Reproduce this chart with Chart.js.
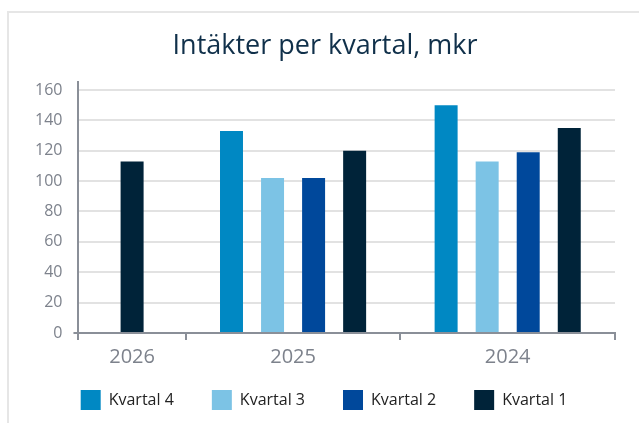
<!DOCTYPE html>
<html>
<head>
<meta charset="utf-8">
<script src="https://cdn.jsdelivr.net/npm/chart.js@4"></script>
<style>
  html, body { margin: 0; padding: 0; background: #fff; overflow: hidden; }
  .chart-frame {
    position: absolute; left: 7px; top: 11px; width: 700px; height: 500px;
    border-left: 2px solid #e6e6e6; border-top: 2px solid #e6e6e6;
  }
  #chart { position: absolute; left: 0; top: 0; }
</style>
</head>
<body>
<div class="chart-frame"></div>
<canvas id="chart" width="639" height="423"></canvas>
<script>
// years and their slot widths (2026 only has one quarter so far, half slot)
const years = ['2026', '2025', '2024'];
const yearSpans = [0.5, 1, 1];

const kvartal4 = [null, 133, 150];
const kvartal3 = [null, 102, 113];
const kvartal2 = [null, 102, 119];
const kvartal1 = [113, 120, 135];

const seriesNames = ['Kvartal 4', 'Kvartal 3', 'Kvartal 2', 'Kvartal 1'];
const seriesColors = ['#0088c3', '#7cc3e5', '#00489b', '#002339'];
const yTicks = [0, 20, 40, 60, 80, 100, 120, 140, 160];

const axisColor = '#8a8f98';
const labelColor = '#7d828c';
const fontFamily = "'Open Sans', 'Noto Sans', sans-serif";

// slot boundaries and centres along the x axis
const bounds = [0];
yearSpans.forEach(s => bounds.push(bounds[bounds.length - 1] + s));
const centers = yearSpans.map((s, i) => bounds[i] + s / 2);
const xTickValues = bounds.concat(centers).sort((a, b) => a - b);

function toPoints(values) {
  return values.map((v, i) => ({ x: centers[i], y: v }));
}

const allSeries = [kvartal4, kvartal3, kvartal2, kvartal1];

// nudge title right and pull the legend row up closer to the axis labels
const layoutTweaks = {
  id: 'layoutTweaks',
  afterLayout(chart) {
    if (chart.titleBlock) {
      chart.titleBlock.left += 11;
    }
    if (chart.legend) {
      chart.legend.top -= 17;
      chart.legend.left += 9;
    }
  },
};

const chartConfig = {
  type: 'bar',
  data: {
    datasets: allSeries.map((values, i) => ({
      label: seriesNames[i],
      data: toPoints(values),
      backgroundColor: seriesColors[i],
      borderWidth: 0,
      skipNull: true,
      categoryPercentage: 3.06,
      barPercentage: 0.56,
      maxBarThickness: 23,
    })),
  },
  options: {
    responsive: false,
    animation: false,
    layout: { padding: { left: 24, right: 24, top: 0, bottom: 3 } },
    plugins: {
      title: {
        display: true,
        text: 'Intäkter per kvartal, mkr',
        color: '#10304a',
        font: { family: fontFamily, size: 27, weight: 'normal' },
        padding: { top: 30, bottom: 20 },
      },
      legend: {
        position: 'bottom',
        maxHeight: 51,
        labels: {
          color: '#222222',
          font: { family: fontFamily, size: 16 },
          boxWidth: 20,
          boxHeight: 20,
          padding: 38,
        },
      },
      tooltip: { enabled: false },
    },
    scales: {
      x: {
        type: 'linear',
        min: 0,
        max: bounds[bounds.length - 1],
        offset: false,
        afterBuildTicks: scale => {
          scale.ticks = xTickValues.map(v => ({ value: v }));
        },
        afterFit: scale => {
          scale.height = 36;
        },
        grid: {
          display: true,
          offset: false,
          drawOnChartArea: false,
          drawTicks: true,
          tickLength: 7,
          lineWidth: 2,
          tickColor: ctx => (ctx.tick && bounds.includes(ctx.tick.value) ? axisColor : 'transparent'),
        },
        border: { display: true, color: axisColor, width: 2 },
        ticks: {
          autoSkip: false,
          maxRotation: 0,
          padding: 5,
          color: labelColor,
          font: { family: fontFamily, size: 20 },
          callback: value => {
            const idx = centers.indexOf(value);
            return idx >= 0 ? years[idx] : '';
          },
        },
      },
      y: {
        min: 0,
        max: 165,
        afterBuildTicks: scale => {
          scale.ticks = yTicks.map(v => ({ value: v }));
        },
        grid: {
          color: '#e2e2e2',
          lineWidth: 2,
          drawTicks: true,
          tickLength: 5,
          tickColor: ctx => (ctx.tick && ctx.tick.value === 0 ? axisColor : 'transparent'),
        },
        border: { display: true, color: axisColor, width: 2 },
        ticks: {
          padding: 11,
          color: labelColor,
          font: { family: fontFamily, size: 16 },
        },
      },
    },
  },
  plugins: [layoutTweaks],
};

const myChart = new Chart(document.getElementById('chart'), chartConfig);
</script>
</body>
</html>
